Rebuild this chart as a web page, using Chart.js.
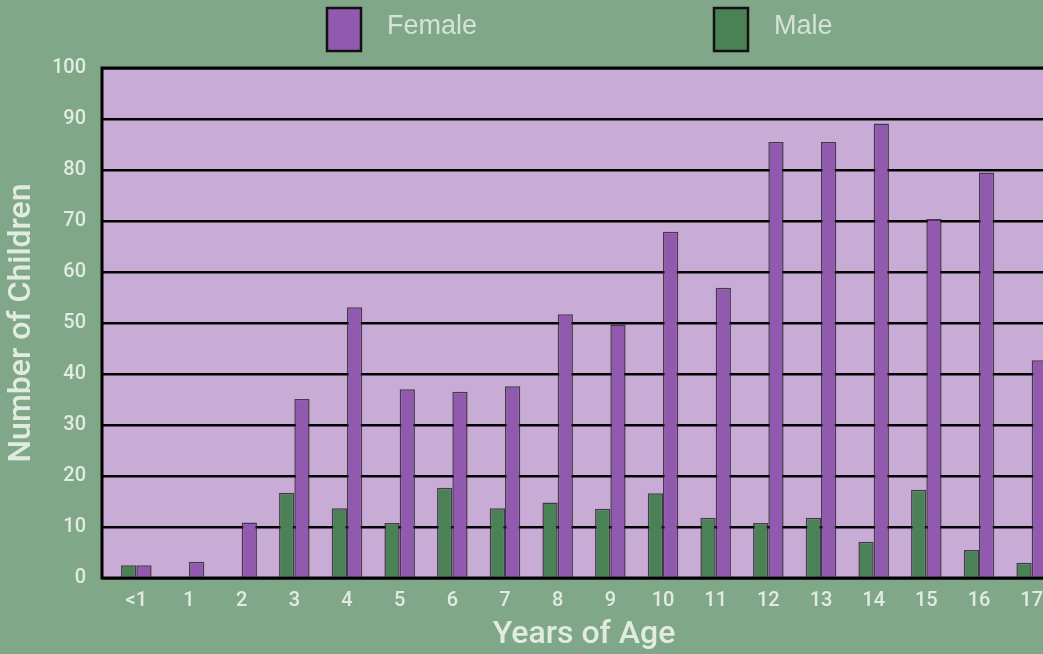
<!DOCTYPE html>
<html>
<head>
<meta charset="utf-8">
<script src="https://cdn.jsdelivr.net/npm/chart.js@4.4.1/dist/chart.umd.min.js"></script>
<style>
  html, body { margin:0; padding:0; background:#80a888; overflow:hidden; width:1043px; height:654px; }
  canvas { display:block; }
</style>
</head>
<body>
<canvas id="ageChart" width="1060" height="654"></canvas>
<script>
// chart data
const ages = ['<1','1','2','3','4','5','6','7','8','9','10','11','12','13','14','15','16','17'];
const maleCounts = [2.5, 0, 0, 16.7, 13.7, 10.8, 17.7, 13.7, 14.8, 13.6, 16.6, 11.8, 10.8, 11.8, 7.1, 17.3, 5.5, 3.0];
const femaleCounts = [2.5, 3.2, 10.9, 35.1, 53.1, 37.0, 36.5, 37.6, 51.7, 49.7, 67.9, 56.9, 85.5, 85.5, 89.1, 70.4, 79.5, 42.7];
const yTicks = [0,10,20,30,40,50,60,70,80,90,100];

const textColor = '#e2ebe0';

// plot background + frame (frame starts at the tick marks)
const plotFrame = {
  id:'plotFrame',
  beforeDraw(chart){
    const {ctx, chartArea:a} = chart;
    ctx.save();
    ctx.fillStyle = '#c9acd6';
    ctx.fillRect(a.left-8, a.top, a.right-a.left+8, a.bottom-a.top);
    ctx.restore();
  },
  afterDatasetsDraw(chart){
    const {ctx, chartArea:a} = chart;
    ctx.save();
    ctx.strokeStyle = '#000';
    ctx.lineWidth = 3;
    ctx.beginPath();
    ctx.moveTo(a.right+10, a.top);
    ctx.lineTo(a.left-8, a.top);
    ctx.lineTo(a.left-8, a.bottom);
    ctx.lineTo(a.right+10, a.bottom);
    ctx.stroke();
    ctx.restore();
  }
};

// legend drawn at the top, female first
const topLegend = {
  id:'topLegend',
  afterDraw(chart){
    const ctx = chart.ctx;
    const order = [1,0];
    ctx.save();
    order.forEach((di,i)=>{
      const ds = chart.data.datasets[di];
      const x = 327 + i*387;
      ctx.fillStyle = ds.backgroundColor;
      ctx.fillRect(x, 8, 34, 43);
      ctx.strokeStyle = '#111';
      ctx.lineWidth = 2.5;
      ctx.strokeRect(x, 8, 34, 43);
      ctx.fillStyle = '#d5e3d2';
      ctx.font = '27px "Liberation Sans Narrow", "Liberation Sans", sans-serif';
      ctx.textBaseline = 'middle';
      ctx.fillText(ds.label, x+60, 27);
    });
    ctx.restore();
  }
};

new Chart(document.getElementById('ageChart'), {
  type:'bar',
  data:{
    labels: ages,
    datasets:[
      {label:'Male', data:maleCounts, backgroundColor:'#4a8256', borderColor:'rgba(35,30,40,0.8)', borderWidth:1.5,
       categoryPercentage:0.58, barPercentage:1.0},
      {label:'Female', data:femaleCounts, backgroundColor:'#925aae', borderColor:'rgba(35,30,40,0.8)', borderWidth:1.5,
       categoryPercentage:0.58, barPercentage:1.0}
    ]
  },
  options:{
    responsive:false,
    animation:false,
    devicePixelRatio:1,
    layout:{ padding:{ top:68, right:2, left:0, bottom:0 } },
    plugins:{ legend:{display:false}, tooltip:{enabled:false} },
    scales:{
      x:{
        grid:{ display:false, drawTicks:false },
        border:{ display:false },
        ticks:{ color:textColor, padding:11, font:{ family:'Roboto, sans-serif', size:20, weight:'500' }, maxRotation:0, autoSkip:false },
        title:{ display:true, text:'Years of Age', color:textColor, padding:{top:0, bottom:0},
                font:{ family:'Roboto, sans-serif', size:32, weight:'500' } },
        afterFit(scale){ scale.height = 76; }
      },
      y:{
        min:0, max:100,
        afterBuildTicks(scale){ scale.ticks = yTicks.map(v=>({value:v})); },
        grid:{ color:'#000', lineWidth:2.5, tickLength:8, drawTicks:true },
        border:{ display:false },
        ticks:{ color:textColor, padding:16, font:{ family:'Roboto, sans-serif', size:20, weight:'500' } },
        title:{ display:true, text:'Number of Children', color:textColor, padding:{top:3, bottom:0},
                font:{ family:'Roboto, sans-serif', size:32, weight:'500' } },
        afterFit(scale){ scale.width = 110; }
      }
    }
  },
  plugins:[plotFrame, topLegend]
});
</script>
</body>
</html>
